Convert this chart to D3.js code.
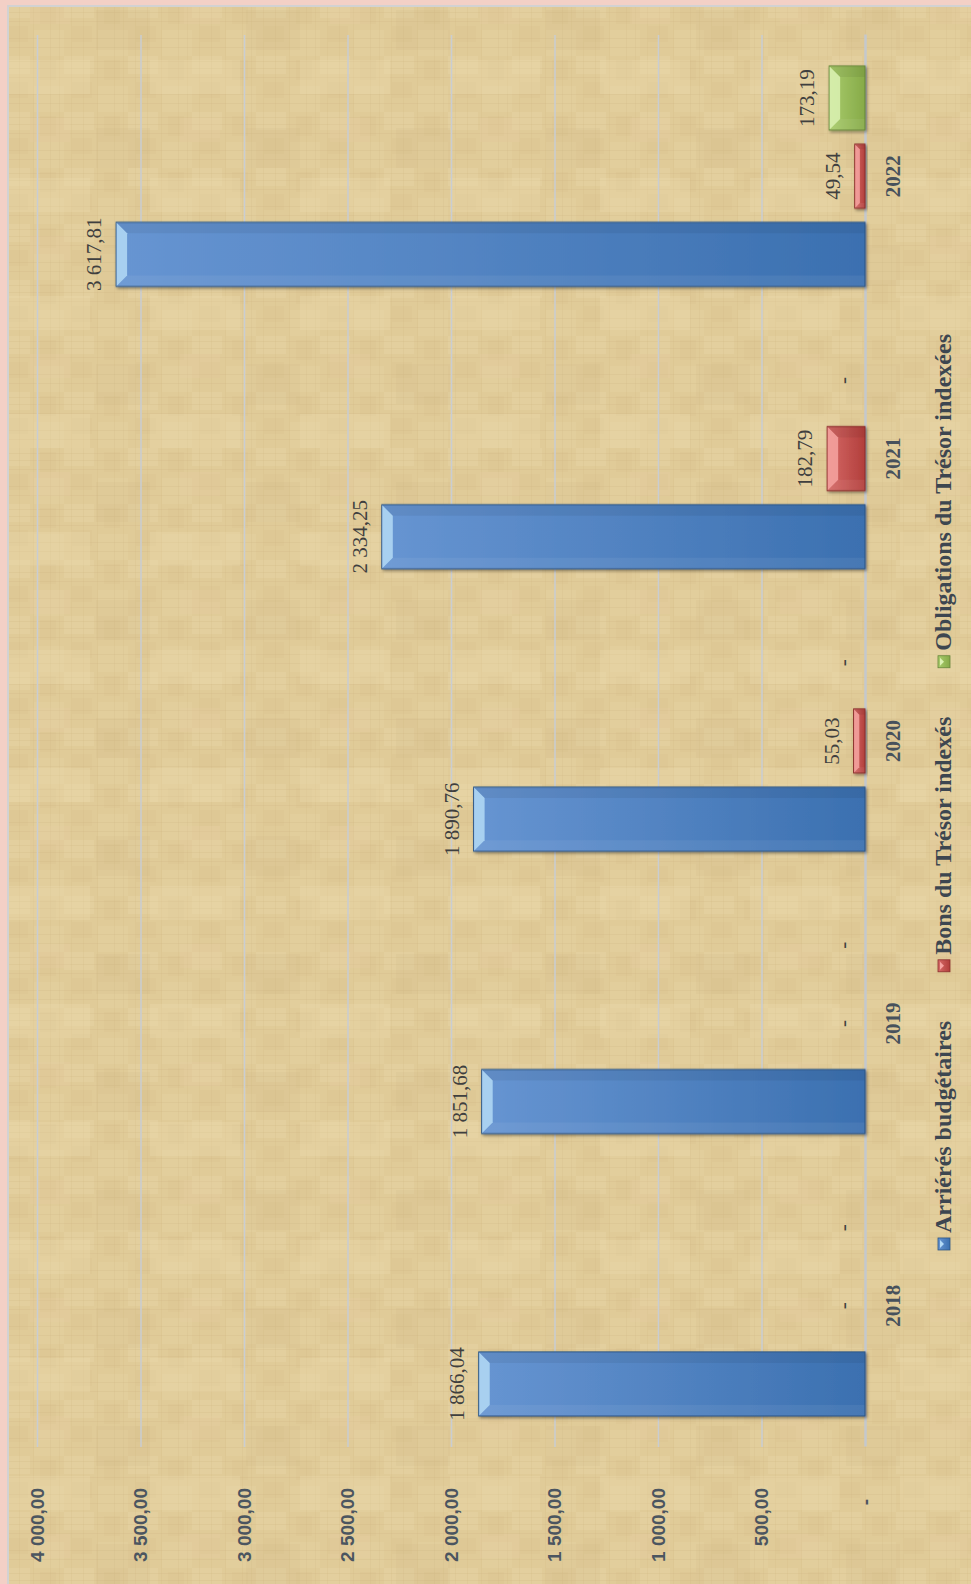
<!DOCTYPE html>
<html>
<head>
<meta charset="utf-8">
<script src="https://cdn.jsdelivr.net/npm/d3@7"></script>
<style>
  body { margin: 0; background: #f3d0c6; }
  svg { display: block; }
</style>
</head>
<body>
<div id="chart"></div>
<script>
const years = ['2018', '2019', '2020', '2021', '2022'];
const seriesNames = ['Arriérés budgétaires', 'Bons du Trésor indexés', 'Obligations du Trésor indexées'];
const arrieres = [1866.04, 1851.68, 1890.76, 2334.25, 3617.81];
const bons = [0, 0, 55.03, 182.79, 49.54];
const obligations = [0, 0, 0, 0, 173.19];
const valueTicks = [0, 500, 1000, 1500, 2000, 2500, 3000, 3500, 4000];

const seriesValues = [arrieres, bons, obligations];

// page size, the chart itself is drawn upright in a 1584 x 971 frame and turned a quarter left
const W = 971, H = 1584;
const cw = H, ch = W;
const margin = { top: 37, right: 35, bottom: 106, left: 137 };
const innerW = cw - margin.left - margin.right;
const innerH = ch - margin.top - margin.bottom;

const styles = [
  { top: '#6795d2', bottom: '#3b70b0', bevel: '#b4daf6', stroke: '#2c5585' },
  { top: '#d56a67', bottom: '#b23e3b', bevel: '#f6a4a1', stroke: '#8a2e2c' },
  { top: '#a9cc6c', bottom: '#86aa48', bevel: '#dcf2b4', stroke: '#66863a' }
];

const fr = d3.formatLocale({ decimal: ',', thousands: '\u00a0', grouping: [3], currency: ['', ''] });
const fmt = fr.format(',.2f');
const label = v => v === 0 ? '-' : fmt(v);

const svg = d3.select('#chart').append('svg')
  .attr('width', W)
  .attr('height', H);

const defs = svg.append('defs');

// papyrus-like texture, kept faint
const pat = defs.append('pattern')
  .attr('id', 'papyrus')
  .attr('patternUnits', 'userSpaceOnUse')
  .attr('width', 64).attr('height', 56);
pat.append('rect').attr('width', 64).attr('height', 56).attr('fill', '#e0cb98');
pat.append('rect').attr('x', 0).attr('y', 0).attr('width', 30).attr('height', 18).attr('fill', '#ecdaae').attr('opacity', 0.3);
pat.append('rect').attr('x', 34).attr('y', 30).attr('width', 30).attr('height', 26).attr('fill', '#e9d6a8').attr('opacity', 0.25);
pat.append('rect').attr('x', 8).attr('y', 26).attr('width', 20).attr('height', 16).attr('fill', '#cdb47e').attr('opacity', 0.12);
pat.append('rect').attr('x', 40).attr('y', 4).attr('width', 16).attr('height', 20).attr('fill', '#d0b780').attr('opacity', 0.12);
[5, 12, 21, 38, 47].forEach(y => pat.append('rect').attr('x', 0).attr('y', y).attr('width', 64).attr('height', 1)
  .attr('fill', '#c8ae78').attr('opacity', 0.18));
[7, 19, 33, 50, 59].forEach(x => pat.append('rect').attr('x', x).attr('y', 0).attr('width', 1).attr('height', 56)
  .attr('fill', '#c9b07a').attr('opacity', 0.15));

const pat2 = defs.append('pattern')
  .attr('id', 'papyrus2')
  .attr('patternUnits', 'userSpaceOnUse')
  .attr('width', 150).attr('height', 118);
pat2.append('rect').attr('x', 0).attr('y', 60).attr('width', 90).attr('height', 34).attr('fill', '#f0dfb4').attr('opacity', 0.25);
pat2.append('rect').attr('x', 96).attr('y', 10).attr('width', 54).attr('height', 40).attr('fill', '#cbb27c').attr('opacity', 0.12);
pat2.append('rect').attr('x', 30).attr('y', 0).attr('width', 40).attr('height', 24).attr('fill', '#e6cba2').attr('opacity', 0.22);

styles.forEach((s, i) => {
  const g = defs.append('linearGradient')
    .attr('id', `grad-${i}`)
    .attr('x1', 0).attr('y1', 0).attr('x2', 0).attr('y2', 1);
  g.append('stop').attr('offset', '0%').attr('stop-color', s.top);
  g.append('stop').attr('offset', '100%').attr('stop-color', s.bottom);
});

defs.append('filter')
  .attr('id', 'shadow')
  .attr('x', '-20%').attr('y', '-20%').attr('width', '140%').attr('height', '140%')
  .append('feDropShadow')
  .attr('dx', -1.5).attr('dy', 1.5).attr('stdDeviation', 1.5)
  .attr('flood-color', '#000').attr('flood-opacity', 0.45);

// frame
svg.append('rect').attr('x', 8).attr('y', 6).attr('width', W - 8).attr('height', H - 6)
  .attr('fill', 'url(#papyrus)');
svg.append('rect').attr('x', 8).attr('y', 6).attr('width', W - 8).attr('height', H - 6)
  .attr('fill', 'url(#papyrus2)');
svg.append('path')
  .attr('d', `M8,${H}V6H${W}`)
  .attr('fill', 'none')
  .attr('stroke', '#d2d2d2')
  .attr('stroke-width', 2);

const chart = svg.append('g')
  .attr('transform', `translate(0,${H}) rotate(-90)`);

const plot = chart.append('g')
  .attr('transform', `translate(${margin.left},${margin.top})`);

const x0 = d3.scaleBand().domain(years).range([0, innerW]);
const x1 = d3.scaleBand().domain(d3.range(seriesNames.length))
  .range([31, x0.bandwidth() - 31])
  .paddingInner(0.18);
const y = d3.scaleLinear().domain([0, 4000]).range([innerH, 0]);

// gridlines
plot.append('g')
  .call(d3.axisLeft(y).tickValues(valueTicks.filter(d => d > 0)).tickSize(-innerW).tickFormat(''))
  .call(g => g.select('.domain').remove())
  .call(g => g.selectAll('line').attr('stroke', '#c9cdd2').attr('stroke-width', 1.5));

// value axis labels
plot.append('g')
  .call(d3.axisLeft(y).tickValues(valueTicks).tickSize(0).tickPadding(41).tickFormat(label))
  .call(g => g.select('.domain').remove())
  .call(g => g.selectAll('text')
    .attr('fill', '#4b5560')
    .style('font', 'bold 19px "Liberation Sans", Arial, sans-serif'))
  .call(g => g.selectAll('.tick').filter(d => d === 0).select('text').attr('dx', -11));

// category axis
plot.append('g')
  .attr('transform', `translate(0,${innerH})`)
  .call(d3.axisBottom(x0).tickSize(0).tickPadding(20))
  .call(g => g.select('.domain').attr('stroke', '#c4c8cd').attr('stroke-width', 2.5))
  .call(g => g.selectAll('text')
    .attr('fill', '#47515c')
    .style('font', 'bold 21px "Liberation Serif", "Times New Roman", serif'));

const bevel = 11;

const groups = plot.append('g')
  .selectAll('g')
  .data(years)
  .join('g')
  .attr('transform', d => `translate(${x0(d)},0)`);

const items = groups.selectAll('g')
  .data((d, j) => seriesValues.map((vals, i) => ({ series: i, value: vals[j] })))
  .join('g');

const bars = items.filter(d => d.value > 0);

bars.append('rect')
  .attr('x', d => x1(d.series))
  .attr('y', d => y(d.value))
  .attr('width', x1.bandwidth())
  .attr('height', d => y(0) - y(d.value))
  .attr('fill', d => `url(#grad-${d.series})`)
  .attr('stroke', d => styles[d.series].stroke)
  .attr('stroke-width', 1)
  .attr('filter', 'url(#shadow)');

bars.append('path')
  .attr('d', d => {
    const bx = x1(d.series), by = y(d.value), bw = x1.bandwidth();
    const b = Math.min(bevel, (y(0) - y(d.value)) / 2);
    return `M${bx + 0.5},${by + 0.5}H${bx + bw - 0.5}L${bx + bw - b},${by + b}H${bx + b}Z`;
  })
  .attr('fill', d => styles[d.series].bevel)
  .attr('opacity', 0.85);

bars.append('path')
  .attr('d', d => {
    const bx = x1(d.series), by = y(d.value);
    const b = Math.min(bevel, (y(0) - y(d.value)) / 2);
    return `M${bx + 0.5},${by + 0.5}L${bx + b},${by + b}V${y(0) - 0.5}H${bx + 0.5}Z`;
  })
  .attr('fill', '#fff')
  .attr('opacity', 0.06);

bars.append('path')
  .attr('d', d => {
    const bx = x1(d.series), by = y(d.value), bw = x1.bandwidth();
    const b = Math.min(bevel, (y(0) - y(d.value)) / 2);
    return `M${bx + bw - 0.5},${by + 0.5}L${bx + bw - b},${by + b}V${y(0) - 0.5}H${bx + bw - 0.5}Z`;
  })
  .attr('fill', '#000')
  .attr('opacity', 0.06);

items.append('text')
  .attr('x', d => x1(d.series) + x1.bandwidth() / 2)
  .attr('y', d => y(d.value) - 15)
  .attr('text-anchor', 'middle')
  .attr('fill', '#3f3f3f')
  .style('font', '21px "Liberation Serif", "Times New Roman", serif')
  .text(d => label(d.value));

// legend, centred on the whole frame
const legend = chart.append('g')
  .attr('transform', `translate(0,${951})`);

const leg = legend.selectAll('g')
  .data(seriesNames)
  .join('g');

leg.append('text')
  .attr('fill', '#3d4650')
  .style('font', 'bold 24px "Liberation Serif", "Times New Roman", serif')
  .text(d => d);

const markSize = 12, markGap = 5, itemGap = 49;
const widths = [];
leg.select('text').each(function () { widths.push(this.getComputedTextLength()); });
const total = d3.sum(widths) + seriesNames.length * (markSize + markGap) + itemGap * (seriesNames.length - 1);
let cursor = cw / 2 - total / 2;

leg.each(function (d, i) {
  const g = d3.select(this);
  g.attr('transform', `translate(${cursor},0)`);
  g.append('rect')
    .attr('x', 0).attr('y', -markSize - 1)
    .attr('width', markSize).attr('height', markSize)
    .attr('fill', `url(#grad-${i})`)
    .attr('stroke', styles[i].stroke)
    .attr('stroke-width', 0.8);
  g.append('path')
    .attr('d', `M2,${-markSize + 1}L${markSize / 2},${-markSize / 2 - 1}L${markSize - 2},${-markSize + 1}Z`)
    .attr('fill', styles[i].bevel);
  g.select('text').attr('x', markSize + markGap);
  cursor += markSize + markGap + widths[i] + itemGap;
});
</script>
</body>
</html>
